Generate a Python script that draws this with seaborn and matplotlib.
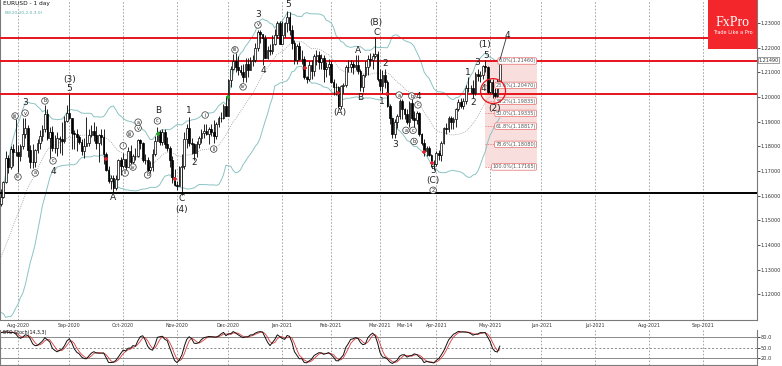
import numpy as np
import pandas as pd
import matplotlib
matplotlib.use("Agg")
import matplotlib.pyplot as plt
import seaborn as sns
from matplotlib.patches import Rectangle, Ellipse

sns.set_theme(style="white")
plt.rcParams["font.family"] = ["DejaVu Sans"]

# ---------------- data ----------------
# history before the visible window (needed for indicators)
pre_close = [1.1250, 1.1220, 1.1218, 1.1240, 1.1234, 1.1250, 1.1240, 1.1245, 1.1310, 1.1275, 1.1330,
             1.1285, 1.1300, 1.1343, 1.1410, 1.1410, 1.1383, 1.1428, 1.1445, 1.1525, 1.1567]
pre_high = [1.1300, 1.1255, 1.1240, 1.1285, 1.1255, 1.1275, 1.1300, 1.1255, 1.1345, 1.1330, 1.1345,
            1.1370, 1.1320, 1.1375, 1.1415, 1.1450, 1.1420, 1.1440, 1.1470, 1.1540, 1.1600]
pre_low = [1.1230, 1.1170, 1.1195, 1.1200, 1.1195, 1.1220, 1.1230, 1.1225, 1.1250, 1.1260, 1.1260,
           1.1280, 1.1255, 1.1300, 1.1340, 1.1400, 1.1375, 1.1380, 1.1400, 1.1440, 1.1510]

closes = [
    1.1595, 1.1655, 1.1752, 1.1716, 1.1790, 1.1779, 1.1778, 1.1760, 1.1800, 1.1852,
    1.1875, 1.1785, 1.1737, 1.1738, 1.1784, 1.1812, 1.1842, 1.1870, 1.1930, 1.1834,
    1.1858, 1.1795, 1.1792, 1.1834, 1.1829, 1.1820, 1.1904, 1.1937, 1.1913, 1.1854,
    1.1850, 1.1838, 1.1818, 1.1780, 1.1802, 1.1813, 1.1845, 1.1862, 1.1845, 1.1815,
    1.1848, 1.1838, 1.1770, 1.1705, 1.1658, 1.1672, 1.1631, 1.1667, 1.1745, 1.1720,
    1.1747, 1.1715, 1.1780, 1.1735, 1.1760, 1.1760, 1.1825, 1.1815, 1.1745, 1.1745,
    1.1705, 1.1718, 1.1768, 1.1820, 1.1860, 1.1817, 1.1860, 1.1810, 1.1795, 1.1745,
    1.1675, 1.1645, 1.1640, 1.1715, 1.1720, 1.1830, 1.1875, 1.1815, 1.1810, 1.1775,
    1.1810, 1.1835, 1.1855, 1.1863, 1.1850, 1.1870, 1.1858, 1.1840, 1.1890, 1.1915,
    1.1915, 1.1965, 1.1925, 1.2070, 1.2115, 1.2145, 1.2120, 1.2110, 1.2100, 1.2080,
    1.2135, 1.2110, 1.2145, 1.2150, 1.2200, 1.2265, 1.2255, 1.2240, 1.2160, 1.2190,
    1.2185, 1.2215, 1.2250, 1.2300, 1.2215, 1.2250, 1.2300, 1.2325, 1.2270, 1.2220,
    1.2150, 1.2205, 1.2155, 1.2155, 1.2080, 1.2075, 1.2130, 1.2105, 1.2165, 1.2170,
    1.2140, 1.2160, 1.2115, 1.2120, 1.2135, 1.2060, 1.2040, 1.2040, 1.1965, 1.2045,
    1.2050, 1.2120, 1.2120, 1.2135, 1.2120, 1.2130, 1.2105, 1.2040, 1.2090, 1.2120,
    1.2155, 1.2150, 1.2165, 1.2175, 1.2075, 1.2045, 1.2090, 1.2060, 1.1965, 1.1915,
    1.1850, 1.1900, 1.1925, 1.1985, 1.1950, 1.1930, 1.1900, 1.1975, 1.1915, 1.1905,
    1.1935, 1.1850, 1.1815, 1.1780, 1.1795, 1.1765, 1.1730, 1.1730, 1.1775, 1.1765,
    1.1815, 1.1875, 1.1870, 1.1915, 1.1900, 1.1910, 1.1950, 1.1980, 1.1965, 1.1985,
    1.2035, 1.2035, 1.2035, 1.2015, 1.2095, 1.2085, 1.2090, 1.2125, 1.2120, 1.2020,
    1.2060, 1.2015, 1.2005, 1.2065, 1.2135]
highs = [
    1.1626, 1.1660, 1.1781, 1.1765, 1.1803, 1.1809, 1.1909, 1.1805, 1.1810, 1.1916,
    1.1916, 1.1886, 1.1805, 1.1810, 1.1790, 1.1830, 1.1865, 1.1885, 1.1966, 1.1950,
    1.1880, 1.1883, 1.1845, 1.1860, 1.1840, 1.1900, 1.1925, 1.1967, 1.2011, 1.1915,
    1.1867, 1.1870, 1.1847, 1.1830, 1.1835, 1.1917, 1.1872, 1.1887, 1.1900, 1.1882,
    1.1852, 1.1872, 1.1870, 1.1777, 1.1720, 1.1685, 1.1684, 1.1683, 1.1750, 1.1755,
    1.1771, 1.1745, 1.1797, 1.1806, 1.1770, 1.1792, 1.1831, 1.1829, 1.1819, 1.1770,
    1.1755, 1.1740, 1.1790, 1.1840, 1.1880, 1.1865, 1.1870, 1.1870, 1.1838, 1.1800,
    1.1760, 1.1710, 1.1660, 1.1720, 1.1770, 1.1860, 1.1890, 1.1920, 1.1835, 1.1815,
    1.1820, 1.1840, 1.1869, 1.1890, 1.1892, 1.1878, 1.1891, 1.1905, 1.1898, 1.1925,
    1.1941, 1.1970, 1.2005, 1.2075, 1.2125, 1.2175, 1.2177, 1.2165, 1.2130, 1.2135,
    1.2160, 1.2160, 1.2163, 1.2170, 1.2220, 1.2273, 1.2270, 1.2255, 1.2250, 1.2205,
    1.2215, 1.2250, 1.2275, 1.2310, 1.2310, 1.2310, 1.2305, 1.2349, 1.2345, 1.2290,
    1.2230, 1.2215, 1.2222, 1.2190, 1.2165, 1.2085, 1.2145, 1.2150, 1.2175, 1.2190,
    1.2185, 1.2175, 1.2170, 1.2140, 1.2155, 1.2145, 1.2075, 1.2055, 1.2045, 1.2050,
    1.2055, 1.2130, 1.2150, 1.2150, 1.2145, 1.2170, 1.2170, 1.2115, 1.2095, 1.2145,
    1.2170, 1.2180, 1.2180, 1.2243, 1.2185, 1.2115, 1.2110, 1.2115, 1.2070, 1.1970,
    1.1915, 1.1910, 1.1930, 1.1990, 1.1990, 1.1955, 1.1950, 1.1985, 1.1990, 1.1945,
    1.1945, 1.1940, 1.1855, 1.1830, 1.1800, 1.1800, 1.1770, 1.1745, 1.1780, 1.1785,
    1.1820, 1.1880, 1.1895, 1.1925, 1.1925, 1.1920, 1.1955, 1.1990, 1.1995, 1.1995,
    1.2050, 1.2080, 1.2050, 1.2070, 1.2100, 1.2115, 1.2105, 1.2130, 1.2150, 1.2125,
    1.2075, 1.2075, 1.2035, 1.2075, 1.2155]
lows = [
    1.1560, 1.1592, 1.1650, 1.1690, 1.1710, 1.1720, 1.1760, 1.1696, 1.1740, 1.1790,
    1.1835, 1.1755, 1.1711, 1.1711, 1.1716, 1.1775, 1.1790, 1.1820, 1.1860, 1.1825,
    1.1753, 1.1780, 1.1775, 1.1760, 1.1772, 1.1763, 1.1815, 1.1900, 1.1910, 1.1789,
    1.1790, 1.1780, 1.1810, 1.1765, 1.1752, 1.1800, 1.1800, 1.1836, 1.1821, 1.1788,
    1.1737, 1.1805, 1.1730, 1.1701, 1.1653, 1.1627, 1.1612, 1.1624, 1.1662, 1.1684,
    1.1711, 1.1696, 1.1716, 1.1730, 1.1716, 1.1744, 1.1755, 1.1790, 1.1738, 1.1727,
    1.1688, 1.1690, 1.1702, 1.1760, 1.1820, 1.1805, 1.1805, 1.1795, 1.1780, 1.1718,
    1.1650, 1.1640, 1.1622, 1.1640, 1.1603, 1.1710, 1.1795, 1.1800, 1.1767, 1.1745,
    1.1755, 1.1795, 1.1812, 1.1835, 1.1847, 1.1810, 1.1840, 1.1815, 1.1830, 1.1880,
    1.1900, 1.1910, 1.1925, 1.1925, 1.2040, 1.2110, 1.2100, 1.2090, 1.2090, 1.2060,
    1.2060, 1.2080, 1.2110, 1.2125, 1.2140, 1.2185, 1.2220, 1.2130, 1.2160, 1.2155,
    1.2170, 1.2175, 1.2210, 1.2240, 1.2215, 1.2220, 1.2245, 1.2265, 1.2250, 1.2195,
    1.2132, 1.2135, 1.2150, 1.2135, 1.2075, 1.2055, 1.2065, 1.2075, 1.2085, 1.2130,
    1.2115, 1.2115, 1.2060, 1.2080, 1.2090, 1.2055, 1.2010, 1.2010, 1.1955, 1.1952,
    1.2015, 1.2040, 1.2100, 1.2100, 1.2095, 1.2110, 1.2095, 1.2025, 1.2020, 1.2080,
    1.2090, 1.2125, 1.2115, 1.2160, 1.2065, 1.2025, 1.2015, 1.2035, 1.1960, 1.1890,
    1.1835, 1.1835, 1.1875, 1.1910, 1.1910, 1.1910, 1.1890, 1.1880, 1.1905, 1.1875,
    1.1890, 1.1840, 1.1805, 1.1760, 1.1760, 1.1760, 1.1715, 1.1704, 1.1720, 1.1745,
    1.1740, 1.1810, 1.1850, 1.1860, 1.1870, 1.1870, 1.1880, 1.1945, 1.1955, 1.1950,
    1.1970, 1.2020, 1.2015, 1.1995, 1.2010, 1.2065, 1.2060, 1.2075, 1.2100, 1.2015,
    1.2015, 1.1995, 1.1986, 1.1995, 1.2050]

month_labels = ["Aug-2020", "Sep-2020", "Oct-2020", "Nov-2020", "Dec-2020", "Jan-2021", "Feb-2021",
                "Mar-2021", "Mar-14", "Apr-2021", "May-2021", "Jun-2021", "Jul-2021", "Aug-2021", "Sep-2021"]
month_pos = [7, 28, 50, 72, 93, 115, 135, 155, 165, 178, 200, 221, 243, 265, 287]
grid_pos = [7, 28, 50, 72, 93, 115, 135, 155, 178, 200, 221, 243, 265, 287]

price_ticks = [1.12, 1.13, 1.14, 1.15, 1.16, 1.17, 1.18, 1.19, 1.20, 1.21, 1.22, 1.23]
red_levels = [1.2239, 1.2146, 1.2012]
black_level = 1.1611

fib_names = ["0.0%", "23.6%", "38.2%", "50.0%", "61.8%", "78.6%", "100.0%"]
fib_values = [1.21460, 1.20470, 1.19835, 1.19335, 1.18817, 1.18080, 1.17165]
fib_start, fib_end = 198, 219

wave_text = ["(iii)", "3", "(v)", "(b)", "(3)", "5", "(iv)", "(a)", "(c)", "4", "A",
             "(i)", "(ii)", "(iii)", "(iv)", "(v)", "(a)", "(b)", "(c)", "B",
             "C", "(4)", "1", "(i)", "(ii)", "2", "(iii)", "(iv)", "3", "(v)", "4", "5",
             "(A)", "A", "B", "(B)", "C", "1", "2", "(a)", "(b)", "4", "(c)", "3", "(a)", "(c)", "(b)",
             "5", "(C)", "2",
             "1", "2", "3", "4", "(1)", "5", "(2)", "4"]
wave_idx = [5.8, 9.9, 9.9, 18.0, 27.9, 27.9, 7.0, 14.0, 21.3, 21.3, 45.8,
            50.0, 50.8, 52.8, 54.0, 56.1, 56.1, 60.0, 64.0, 64.3,
            74.0, 74.0, 77.0, 83.5, 87.0, 79.0, 95.7, 99.0, 105.1, 105.1, 107.2, 117.4,
            138.7, 146.0, 146.8, 153.4, 153.4, 155.8, 157.0, 162.8, 168.0, 170.5, 170.5,
            161.1, 165.6, 168.5, 168.9, 176.7, 176.7, 176.7,
            191.0, 193.0, 194.7, 197.1, 197.9, 198.4, 202.0, 207.0]
wave_price = [1.1923, 1.1976, 1.1935, 1.1984, 1.2069, 1.2036, 1.1676, 1.1692, 1.1741, 1.1700, 1.1591,
              1.1802, 1.1692, 1.1850, 1.1716, 1.1874, 1.1898, 1.1684, 1.1903, 1.1947,
              1.1587, 1.1543, 1.1947, 1.1927, 1.1789, 1.1736, 1.2191, 1.2041, 1.2333, 1.2292, 1.2109, 1.2373,
              1.1939, 1.2190, 1.2000, 1.2300, 1.2263, 1.1980, 1.2134, 1.2008, 1.2004, 1.2004, 1.1968,
              1.1808, 1.1865, 1.1865, 1.1820, 1.1702, 1.1662, 1.1622,
              1.2101, 1.1976, 1.2138, 1.2036, 1.2211, 1.2170, 1.1955, 1.2248]
wave_circ = [True, False, True, True, False, False, True, True, True, False, False,
             True, True, True, True, True, True, True, True, False,
             False, False, False, True, True, False, True, True, False, True, False, False,
             False, False, False, False, False, False, False, True, True, False, True, False, True, True, True,
             False, False, True,
             False, False, False, False, False, False, False, False]

red_mark_idx = [43.0, 71.2, 124.3, 137.8, 157.9, 173.0, 176.3]
red_mark_price = [1.1749, 1.1668, 1.2118, 1.2016, 1.2012, 1.1777, 1.1732]
green_mark_idx = [64.2, 92.9]
green_mark_price = [1.1850, 1.2000]

sto_k_period, sto_slow, sto_d = 14, 3, 3

# ---------------- derived frames ----------------
n_pre = len(pre_close)
all_close = pd.Series(pre_close + closes)
all_high = pd.Series(pre_high + highs)
all_low = pd.Series(pre_low + lows)
idx_all = np.arange(len(all_close)) - n_pre

sma = all_close.rolling(20).mean()
sd = all_close.rolling(20).std(ddof=0)
bb = pd.DataFrame({"i": idx_all, "mid": sma, "up": sma + 2 * sd, "lo": sma - 2 * sd})
bb = bb[bb.i >= 0]

hh = all_high.rolling(sto_k_period, min_periods=5).max()
ll = all_low.rolling(sto_k_period, min_periods=5).min()
k_slow = (all_close - ll).rolling(sto_slow).sum() / (hh - ll).rolling(sto_slow).sum() * 100
d_line = k_slow.rolling(sto_d).mean()
sto = pd.DataFrame({"i": idx_all, "k": k_slow, "d": d_line})
sto = sto[sto.i >= 0]

n = len(closes)
x = np.arange(n)
opens = np.array([pre_close[-1]] + closes[:-1])
c = np.array(closes)
h = np.maximum(np.array(highs), np.maximum(opens, c))
l = np.minimum(np.array(lows), np.minimum(opens, c))

# ---------------- figure ----------------
W, H = 782, 366
fig = plt.figure(figsize=(W / 100, H / 100), dpi=100)
fig.patch.set_facecolor("white")
ax = fig.add_axes([0, 46 / H, 757 / W, 320 / H])
axs = fig.add_axes([0, 1 / H, 757 / W, 35 / H])

xlim = (-0.36, 309.1)
for a in (ax, axs):
    a.set_facecolor("white")
    a.set_xlim(*xlim)
    for gp in grid_pos:
        a.axvline(gp, color="#9a9a9a", lw=0.6, ls=(0, (2, 2)), zorder=0)
    for s in ("left", "right", "bottom"):
        a.spines[s].set_color("#7a7a7a")
        a.spines[s].set_linewidth(0.8)
    a.spines["top"].set_visible(False)

ax.set_ylim(1.10961, 1.23932)

# Bollinger bands
teal = "#8cc3c3"
sns.lineplot(data=bb, x="i", y="up", ax=ax, color=teal, lw=0.7, legend=False)
sns.lineplot(data=bb, x="i", y="lo", ax=ax, color=teal, lw=0.7, legend=False)
sns.lineplot(data=bb, x="i", y="mid", ax=ax, color="#9a9a9a", lw=0.6, legend=False, linestyle=(0, (1, 1.5)))

# horizontal levels
for lv in red_levels:
    ax.axhline(lv, color="#e8141b", lw=1.4, zorder=3)
ax.axhline(black_level, color="black", lw=1.4, zorder=3)

# fib zone
ax.add_patch(Rectangle((fib_start, fib_values[-1]), fib_end - fib_start, fib_values[0] - fib_values[-1],
                       facecolor="#f9dede", edgecolor="none", zorder=1))
for nm, fv in zip(fib_names, fib_values):
    ax.plot([fib_start, fib_start + 9], [fv, fv], color="#e86a6a", lw=0.5, ls=(0, (2, 1.5)), zorder=2)
    ax.text(fib_end - 0.3, fv, f"{nm}({fv:.5f})", fontsize=3.6, color="#555555", ha="right", va="center",
            zorder=6, bbox=dict(boxstyle="round,pad=0.15,rounding_size=0.3", fc="white", ec="#e86a6a", lw=0.5))

# candles
up = c >= opens
ax.vlines(x, l, h, color="black", lw=0.6, zorder=4)
ax.bar(x[up], (c - opens)[up], bottom=opens[up], width=0.7, color="white", edgecolor="black", lw=0.5, zorder=5)
ax.bar(x[~up], (opens - c)[~up], bottom=c[~up], width=0.7, color="black", edgecolor="black", lw=0.5, zorder=5)

# markers
ax.plot(red_mark_idx, red_mark_price, ls="none", marker="+", ms=3.5, mew=1.2, color="#e0202a", zorder=6)
ax.plot(green_mark_idx, green_mark_price, ls="none", marker="+", ms=3.5, mew=1.2, color="#22aa22", zorder=6)

# wave labels
for t, wi, wp, cc in zip(wave_text, wave_idx, wave_price, wave_circ):
    if cc:
        ax.text(wi, wp, t.strip("()"), fontsize=3.6, ha="center", va="center", color="#222222", zorder=7,
                bbox=dict(boxstyle="circle,pad=0.15", fc="white", ec="#333333", lw=0.5))
    else:
        ax.text(wi, wp, t, fontsize=6.5, ha="center", va="center", color="#222222", zorder=7)

# red circle and projection line
ax.add_patch(Ellipse((201.2, 1.2024), 10.2, 0.0101, fill=False, ec="#e8141b", lw=0.9, zorder=8))
ax.plot([204, 206.6], [1.2150, 1.2240], color="#333333", lw=0.6, zorder=6)

# axes ticks
ax.yaxis.tick_right()
ax.set_yticks(price_ticks)
ax.set_yticklabels([f"{p:.5f}" for p in price_ticks], fontsize=3.5, color="#333333")
ax.tick_params(axis="y", length=1.8, width=0.6, pad=0.8, colors="#333333")
ax.set_xticks(month_pos)
ax.set_xticklabels(month_labels, fontsize=3.4, color="#333333")
ax.tick_params(axis="x", length=0, pad=2.5)
ax.set_xlabel("")
ax.set_ylabel("")
ax.text(1, 1.2380, "EURUSD - 1 day", fontsize=4.2, color="#111111", va="center")
ax.text(1.5, 1.2341, "BB(20,20,2.0,3.0)", fontsize=3.2, color="#5fb0b0", va="center")
ax.text(309.8, 1.21490, "1.21490", fontsize=3.5, color="#333333", ha="left", va="center",
        bbox=dict(boxstyle="square,pad=0.12", fc="white", ec="#777777", lw=0.5), clip_on=False)

# stochastic
axs.set_ylim(0, 100)
for lv, st in ((80, "-"), (50, (0, (2, 2))), (20, "-")):
    axs.axhline(lv, color="#8a8a8a", lw=0.7, ls=st, zorder=1)
sns.lineplot(data=sto, x="i", y="d", ax=axs, color="#d9383a", lw=0.6, legend=False)
sns.lineplot(data=sto, x="i", y="k", ax=axs, color="#111111", lw=0.7, legend=False)
axs.yaxis.tick_right()
axs.set_yticks([20, 50, 80])
axs.set_yticklabels(["20.0", "50.0", "80.0"], fontsize=3.6, color="#333333")
axs.tick_params(axis="y", length=1.8, width=0.6, pad=0.8)
axs.set_xticks([])
axs.set_xlabel("")
axs.set_ylabel("")
axs.text(1, 92, "STO Stoch(14,3,3)", fontsize=3.4, color="#111111", va="center")

# logo
fig.patches.append(Rectangle((708 / W, 1 - 49 / H), 49 / W, 49 / H, transform=fig.transFigure,
                             facecolor="#f3262b", edgecolor="none", zorder=10))
fig.text(732.5 / W, 1 - 22 / H, "FxPro", fontsize=10, color="white", ha="center", va="center",
         family=["Liberation Serif", "DejaVu Serif"], zorder=11)
fig.text(732.5 / W, 1 - 32 / H, "Trade Like a Pro", fontsize=3.6, color="white", ha="center", va="center", zorder=11)

fig.savefig("out.png", dpi=100, facecolor="white")
